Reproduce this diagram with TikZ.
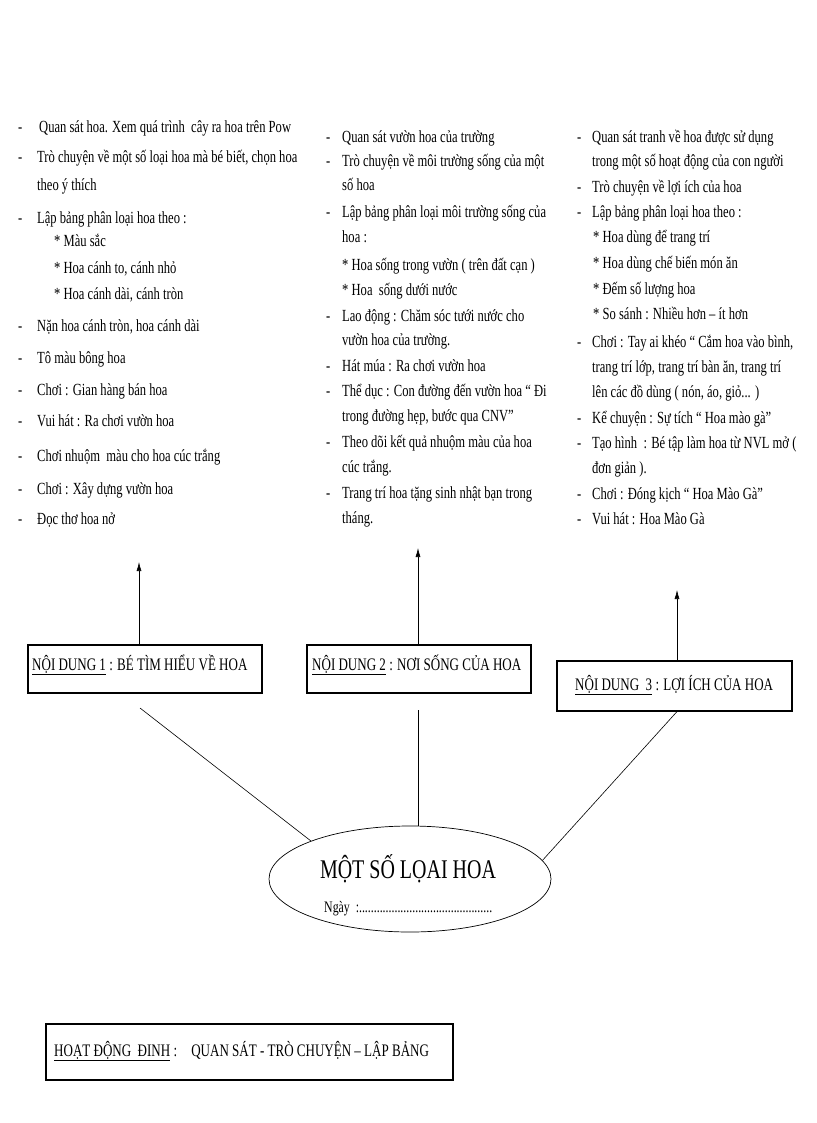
\documentclass[tikz,border=0pt]{standalone}
\usepackage{fontspec}
\setmainfont{Liberation Serif}[FakeStretch=0.74]
\usetikzlibrary{shapes.geometric,arrows.meta}
\tikzset{
  txt/.style={anchor=base west, inner sep=0pt, font=\fontsize{17}{20}\selectfont},
  boxtxt/.style={anchor=base west, inner sep=0pt, font=\fontsize{17.6}{20}\selectfont},
  box/.style={draw, line width=1.1pt, inner sep=0pt, rectangle},
  arr/.style={-{Latex[length=9pt,width=5pt]}, line width=0.6pt},
  conn/.style={line width=0.6pt}
}
\begin{document}
\begin{tikzpicture}[x=1pt,y=-1pt]
\path[use as bounding box] (0,0) rectangle (816,1123);

% ---------- Column 1 ----------
\node[txt] (d11) at (18,133) {-};
\node[txt] (c11) at (39,133) {Quan sát hoa. Xem quá trình \ cây ra hoa trên Pow};
\node[txt] (d12) at (18,163) {-};
\node[txt] (c12) at (37,163) {Trò chuyện về một số loại hoa mà bé biết, chọn hoa};
\node[txt] (c12b) at (37,191) {theo ý thích};
\node[txt] (d13) at (18,223) {-};
\node[txt] (c13) at (37,223) {Lập bảng phân loại hoa theo :};
\node[txt] (c13b) at (54,247) {* Màu sắc};
\node[txt] (c13c) at (54,273) {* Hoa cánh to, cánh nhỏ};
\node[txt] (c13d) at (54,299) {* Hoa cánh dài, cánh tròn};
\node[txt] (d14) at (18,331) {-};
\node[txt] (c14) at (37,331) {Nặn hoa cánh tròn, hoa cánh dài};
\node[txt] (d15) at (18,363) {-};
\node[txt] (c15) at (37,363) {Tô màu bông hoa};
\node[txt] (d16) at (18,395) {-};
\node[txt] (c16) at (37,395) {Chơi : Gian hàng bán hoa};
\node[txt] (d17) at (18,426) {-};
\node[txt] (c17) at (37,426) {Vui hát : Ra chơi vườn hoa};
\node[txt] (d18) at (18,461) {-};
\node[txt] (c18) at (37,461) {Chơi nhuộm \ màu cho hoa cúc trắng};
\node[txt] (d19) at (18,494) {-};
\node[txt] (c19) at (37,494) {Chơi : Xây dựng vườn hoa};
\node[txt] (d110) at (18,524) {-};
\node[txt] (c110) at (37,524) {Đọc thơ hoa nở};

% ---------- Column 2 ----------
\node[txt] (d21) at (326,143) {-};
\node[txt] (c21) at (342,143) {Quan sát vườn hoa của trường};
\node[txt] (d22) at (326,167) {-};
\node[txt] (c22) at (342,167) {Trò chuyện về môi trường sống của một};
\node[txt] (c22b) at (342,191) {số hoa};
\node[txt] (d23) at (326,218) {-};
\node[txt] (c23) at (342,218) {Lập bảng phân loại môi trường sống của};
\node[txt] (c23b) at (342,243) {hoa :};
\node[txt] (c23c) at (342,270) {* Hoa sống trong vườn ( trên đất cạn )};
\node[txt] (c23d) at (342,295) {* Hoa \ sống dưới nước};
\node[txt] (d24) at (326,321) {-};
\node[txt] (c24) at (342,321) {Lao động : Chăm sóc tưới nước cho};
\node[txt] (c24b) at (342,345) {vườn hoa của trường.};
\node[txt] (d25) at (326,371) {-};
\node[txt] (c25) at (342,371) {Hát múa : Ra chơi vườn hoa};
\node[txt] (d26) at (326,396) {-};
\node[txt] (c26) at (342,396) {Thể dục : Con đường đến vườn hoa “ Đi};
\node[txt] (c26b) at (342,421) {trong đường hẹp, bước qua CNV”};
\node[txt] (d27) at (326,447) {-};
\node[txt] (c27) at (342,447) {Theo dõi kết quả nhuộm màu của hoa};
\node[txt] (c27b) at (342,472) {cúc trắng.};
\node[txt] (d28) at (326,498) {-};
\node[txt] (c28) at (342,498) {Trang trí hoa tặng sinh nhật bạn trong};
\node[txt] (c28b) at (342,523) {tháng.};

% ---------- Column 3 ----------
\node[txt] (d31) at (577,143) {-};
\node[txt] (c31) at (592,143) {Quan sát tranh về hoa được sử dụng};
\node[txt] (c31b) at (592,167) {trong một số hoạt động của con người};
\node[txt] (d32) at (577,193) {-};
\node[txt] (c32) at (592,193) {Trò chuyện về lợi ích của hoa};
\node[txt] (d33) at (577,218) {-};
\node[txt] (c33) at (592,218) {Lập bảng phân loại hoa theo :};
\node[txt] (c33b) at (593,243) {* Hoa dùng để trang trí};
\node[txt] (c33c) at (593,268) {* Hoa dùng chế biến món ăn};
\node[txt] (c33d) at (593,294) {* Đếm số lượng hoa};
\node[txt] (c33e) at (593,319) {* So sánh : Nhiều hơn – ít hơn};
\node[txt] (d34) at (577,347) {-};
\node[txt] (c34) at (592,347) {Chơi : Tay ai khéo “ Cắm hoa vào bình,};
\node[txt] (c34b) at (592,372) {trang trí lớp, trang trí bàn ăn, trang trí};
\node[txt] (c34c) at (592,397) {lên các đồ dùng ( nón, áo, giỏ... )};
\node[txt] (d35) at (577,423) {-};
\node[txt] (c35) at (592,423) {Kể chuyện : Sự tích “ Hoa mào gà”};
\node[txt] (d36) at (577,448) {-};
\node[txt] (c36) at (592,448) {Tạo hình \ : Bé tập làm hoa từ NVL mở (};
\node[txt] (c36b) at (592,473) {đơn giản ).};
\node[txt] (d37) at (577,499) {-};
\node[txt] (c37) at (592,499) {Chơi : Đóng kịch “ Hoa Mào Gà”};
\node[txt] (d38) at (577,524) {-};
\node[txt] (c38) at (592,524) {Vui hát : Hoa Mào Gà};

% ---------- Boxes ----------
\node[box, minimum width=234pt, minimum height=48pt] (b1) at (145,669) {};
\node[box, minimum width=224pt, minimum height=48pt] (b2) at (419,669) {};
\node[box, minimum width=235pt, minimum height=50pt] (b3) at (674.5,686) {};
\node[box, minimum width=407pt, minimum height=56pt] (b4) at (249.5,1052) {};

\node[boxtxt] (bt1) at (32,670) {\underline{NỘI DUNG 1} : BÉ TÌM HIỂU VỀ HOA};
\node[boxtxt] (bt2) at (312,670) {\underline{NỘI DUNG 2} : NƠI SỐNG CỦA HOA};
\node[boxtxt] (bt3) at (575,690) {\underline{NỘI DUNG \ 3} : LỢI ÍCH CỦA HOA};
\node[boxtxt] (bt4) at (54,1056) {\underline{HOẠT ĐỘNG \ ĐINH} : \ \ \ QUAN SÁT - TRÒ CHUYỆN – LẬP BẢNG};

% ---------- Central ellipse ----------
\node[draw, ellipse, line width=0.7pt, minimum width=282pt, minimum height=106pt, inner sep=0pt] (e) at (410,879) {};
\node[anchor=base, inner sep=0pt, font=\fontsize{27}{30}\selectfont] (title) at (408,878) {MỘT SỐ LỌAI HOA};
\node[anchor=base west, inner sep=0pt, font=\fontsize{16}{18}\selectfont] (ngay) at (324,912) {Ngày \ :.............................................};

% ---------- Arrows ----------
\coordinate (t1) at (139,562);
\coordinate (t2) at (418,548);
\coordinate (t3) at (677,590);
\draw[arr] (b1.north -| t1) -- (t1);
\draw[arr] (b2.north -| t2) -- (t2);
\draw[arr] (b3.north -| t3) -- (t3);

% ---------- Connectors to ellipse ----------
\coordinate (s1) at (140,708);
\coordinate (s2) at (418,710);
\draw[conn] (s1) -- (e.159);
\draw[conn] (s2) -- (e.north -| s2);
\draw[conn] (b3.south -| t3) -- (e.8);
\end{tikzpicture}
\end{document}
